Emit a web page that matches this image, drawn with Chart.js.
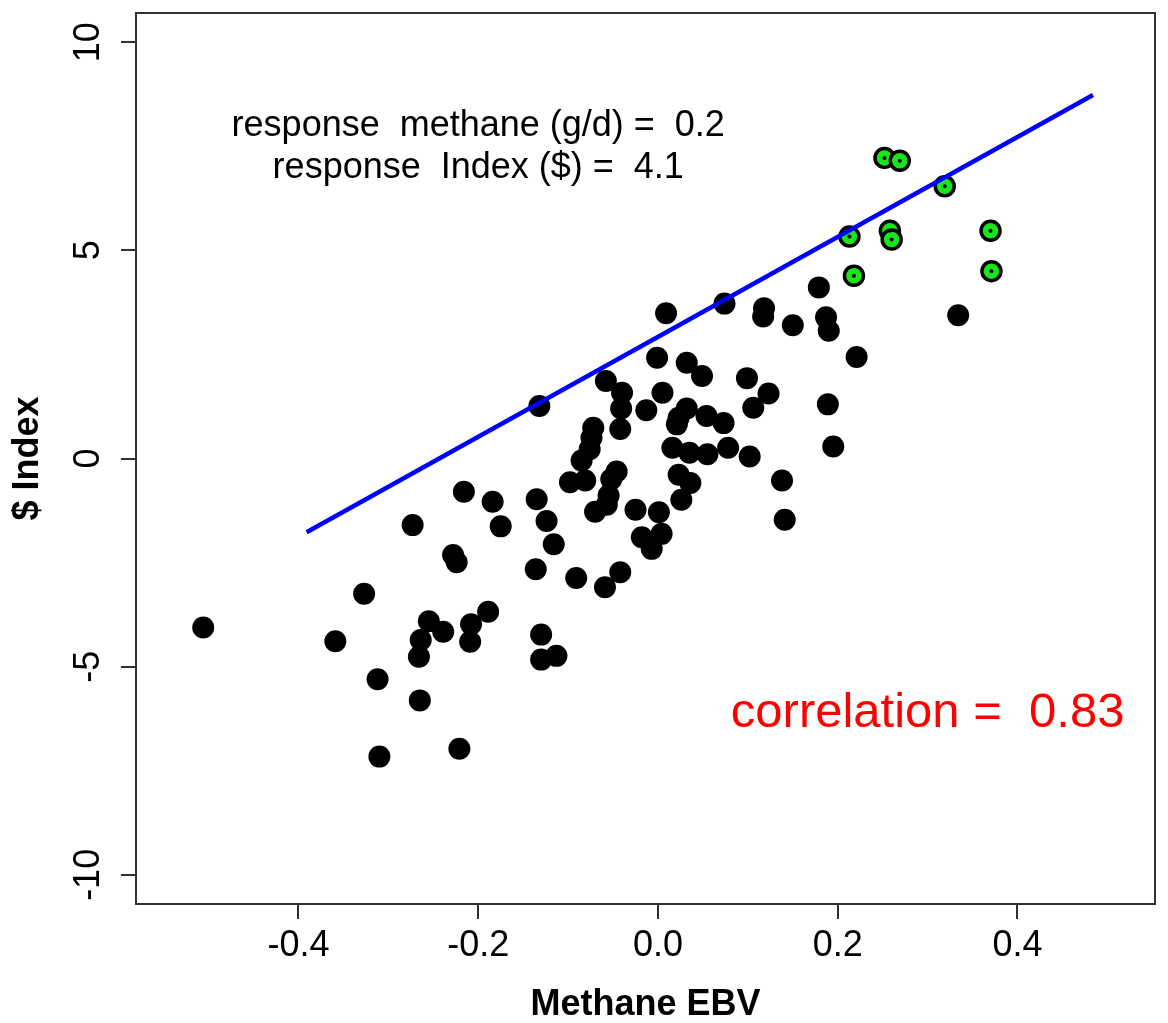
<!DOCTYPE html>
<html>
<head>
<meta charset="utf-8">
<script src="https://cdn.jsdelivr.net/npm/chart.js@4.4.1/dist/chart.umd.min.js"></script>
<style>
    body { margin: 0; background: #fff; }
</style>
</head>
<body>
<canvas id="myChart" width="1168" height="1023"></canvas>
<script>
var methaneEbv = [-0.506, -0.216, -0.184, -0.135, -0.273, -0.175, -0.124, -0.116, -0.228, -0.224,
    -0.136, -0.327, -0.189, -0.255, -0.239, -0.208, -0.209, -0.264, -0.266, -0.359,
    -0.130, -0.130, -0.113, -0.312, -0.265, -0.310, -0.221, 0.009, 0.074, 0.118,
    0.117, 0.150, -0.132, -0.001, 0.032, 0.049, 0.099, 0.123, 0.106, -0.058,
    -0.040, -0.041, -0.013, 0.005, 0.032, 0.023, 0.021, 0.054, 0.073, -0.042,
    -0.072, -0.074, 0.016, 0.035, 0.055, 0.078, 0.102, 0.138, 0.141, -0.076,
    -0.085, -0.098, -0.081, -0.046, -0.052, -0.055, -0.057, -0.070, -0.025, 0.001,
    0.004, -0.018, -0.007, 0.023, 0.036, 0.026, -0.091, -0.059, -0.042, 0.179,
    0.187, 0.190, 0.221, 0.334, 0.189, 0.195];
var dollarIndex = [-4.06, -0.80, -1.04, -0.98, -1.60, -1.63, -1.50, -2.06, -2.32, -2.49,
    -2.66, -3.25, -3.68, -3.91, -4.16, -3.98, -4.40, -4.36, -4.76, -4.39,
    -4.23, -4.83, -4.74, -5.30, -5.81, -7.16, -6.97, 3.49, 3.72, 3.61,
    3.41, 3.20, 1.26, 2.42, 2.30, 1.98, 1.93, 1.56, 1.22, 1.86,
    1.58, 1.20, 1.16, 1.58, 1.20, 0.98, 0.82, 1.02, 0.85, 0.71,
    0.74, 0.50, 0.26, 0.14, 0.10, 0.26, 0.05, -0.53, -1.47, 0.22,
    -0.05, -0.57, -0.53, -0.31, -0.50, -0.89, -1.11, -1.28, -1.23, -1.29,
    -1.81, -1.89, -2.17, -0.39, -0.59, -0.99, -2.87, -3.09, -2.73, 4.11,
    3.39, 3.07, 2.44, 3.44, 1.30, 0.29];

// selected (green) animals
var topMethaneEbv = [0.252, 0.269, 0.319, 0.213, 0.258, 0.260, 0.370, 0.371, 0.218];
var topDollarIndex = [7.22, 7.15, 6.54, 5.33, 5.47, 5.26, 5.47, 4.50, 4.39];

// blue response line
var fitX = [-0.391, 0.484];
var fitY = [-1.77, 8.73];

var xTicks = [-0.4, -0.2, 0, 0.2, 0.4];
var xTickLabels = ['-0.4', '-0.2', '0.0', '0.2', '0.4'];
var yTicks = [-10, -5, 0, 5, 10];
var yTickLabels = ['-10', '-5', '0', '5', '10'];

var responseText = ['response  methane (g/d) =  0.2', 'response  Index ($) =  4.1'];
var corrText = 'correlation =  0.83';

var FONT = '"Liberation Sans", Arial, sans-serif';

function pairs(xs, ys) {
    return xs.map(function(x, i) { return {x: x, y: ys[i]}; });
}

// box, rotated y labels and the notes, drawn like R does
var rExtras = {
    id: 'rExtras',
    afterDraw: function(chart) {
        var c = chart.ctx, a = chart.chartArea;
        var xs = chart.scales.x, ys = chart.scales.y;
        c.save();
        c.strokeStyle = '#333';
        c.lineWidth = 2;
        c.strokeRect(a.left, a.top, a.right - a.left, a.bottom - a.top);

        c.fillStyle = '#000';
        c.font = '36px ' + FONT;
        c.textAlign = 'center';
        c.textBaseline = 'alphabetic';
        for (var i = 0; i < yTicks.length; i++) {
            c.save();
            c.translate(99, ys.getPixelForValue(yTicks[i]));
            c.rotate(-Math.PI / 2);
            c.fillText(yTickLabels[i], 0, 0);
            c.restore();
        }

        c.fillText(responseText[0], xs.getPixelForValue(-0.2), ys.getPixelForValue(8) + 11);
        c.fillText(responseText[1], xs.getPixelForValue(-0.2), ys.getPixelForValue(7) + 11);

        c.fillStyle = '#ff0000';
        c.font = '49px ' + FONT;
        c.fillText(corrText, xs.getPixelForValue(0.3), ys.getPixelForValue(-6) + 19);
        c.restore();
    }
};

var ctx = document.getElementById('myChart').getContext('2d');
var chart = new Chart(ctx, {
    type: 'scatter',
    data: {
        datasets: [{
            type: 'line',
            data: pairs(fitX, fitY),
            borderColor: '#0000ff',
            borderWidth: 4.5,
            pointRadius: 0,
            fill: false,
        }, {
            data: pairs(topMethaneEbv, topDollarIndex),
            pointRadius: 2,
            pointBackgroundColor: '#000',
            pointBorderWidth: 0,
        }, {
            data: pairs(topMethaneEbv, topDollarIndex),
            pointRadius: 9.5,
            pointBackgroundColor: '#19e619',
            pointBorderColor: '#000',
            pointBorderWidth: 3.5,
        }, {
            data: pairs(methaneEbv, dollarIndex),
            pointRadius: 11,
            pointBackgroundColor: '#000',
            pointBorderWidth: 0,
        }]
    },
    options: {
        responsive: false,
        animation: false,
        events: [],
        layout: { padding: { top: 8, right: 13, left: 0, bottom: 0 } },
        plugins: { legend: { display: false }, tooltip: { enabled: false } },
        scales: {
            x: {
                type: 'linear',
                min: -0.5808,
                max: 0.553,
                afterBuildTicks: function(axis) {
                    axis.ticks = xTicks.map(function(v) { return {value: v}; });
                },
                afterFit: function(axis) { axis.height = 119; },
                border: { display: false },
                grid: { display: true, drawOnChartArea: false, drawTicks: true, tickLength: 15, color: '#333', lineWidth: 2 },
                ticks: {
                    padding: 5,
                    color: '#000',
                    font: { family: FONT, size: 36 },
                    maxRotation: 0,
                    autoSkip: false,
                    callback: function(value, index) { return xTickLabels[index]; }
                },
                title: {
                    display: true,
                    text: 'Methane EBV',
                    color: '#000',
                    font: { family: FONT, size: 36, weight: 'bold', lineHeight: 1 },
                    padding: { top: 0, bottom: 0 }
                }
            },
            y: {
                type: 'linear',
                min: -10.7,
                max: 10.7,
                afterBuildTicks: function(axis) {
                    axis.ticks = yTicks.map(function(v) { return {value: v}; });
                },
                afterFit: function(axis) { axis.width = 136; },
                border: { display: false },
                grid: { display: true, drawOnChartArea: false, drawTicks: true, tickLength: 15, color: '#333', lineWidth: 2 },
                ticks: { display: false },
                title: {
                    display: true,
                    text: '$ Index',
                    color: '#000',
                    font: { family: FONT, size: 36, weight: 'bold', lineHeight: 1 },
                    padding: { top: 10, bottom: 0 }
                }
            }
        }
    },
    plugins: [rExtras]
});
</script>
</body>
</html>
